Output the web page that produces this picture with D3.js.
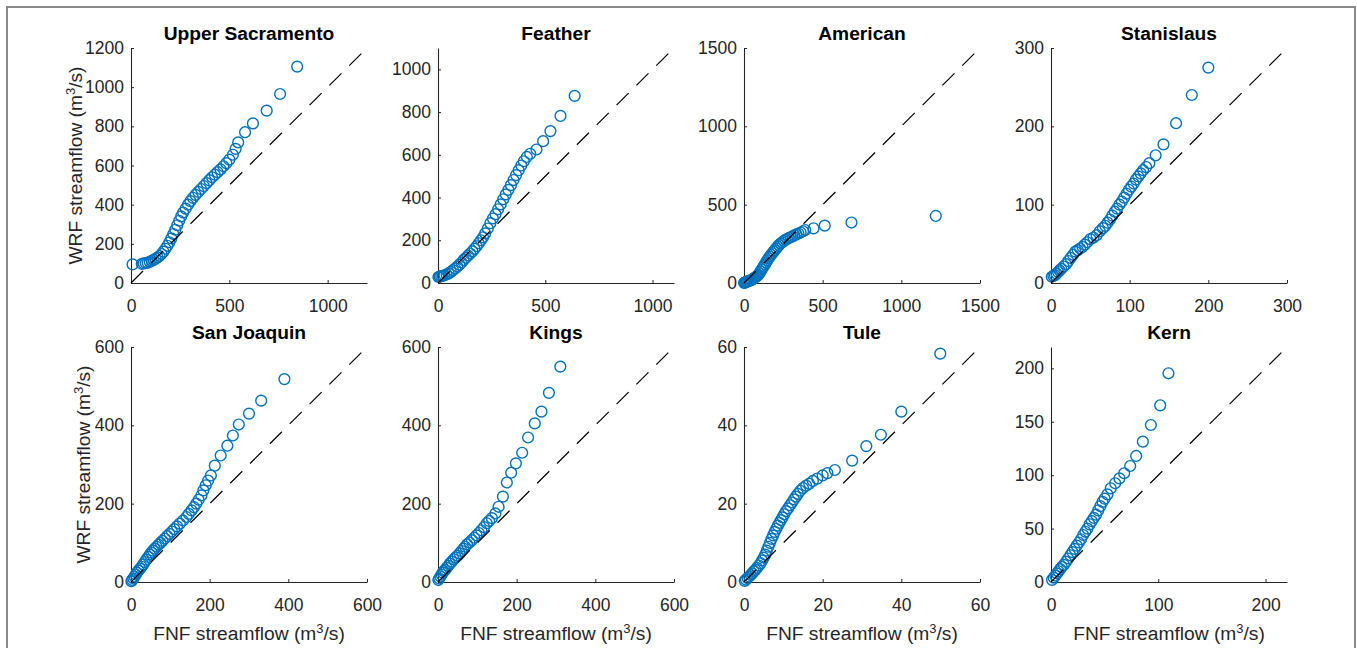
<!DOCTYPE html>
<html>
<head>
<meta charset="utf-8">
<script src="https://cdn.jsdelivr.net/npm/d3@7"></script>
<style>
  html, body { margin: 0; padding: 0; background: #fff; }
  svg { display: block; font-family: "Liberation Sans", Arial, Helvetica, sans-serif; }
</style>
</head>
<body>
<svg id="chart" width="1357" height="648"></svg>
<script>
// Basins, one panel each (row-major, 4 per row)
const basinNames = ["Upper Sacramento", "Feather", "American", "Stanislaus",
                    "San Joaquin", "Kings", "Tule", "Kern"];

// Upper bound of both axes per basin (m3/s)
const axisMax = [1200, 1100, 1500, 300, 600, 600, 60, 220];

const xTickValues = [
  [0, 500, 1000], [0, 500, 1000], [0, 500, 1000, 1500], [0, 100, 200, 300],
  [0, 200, 400, 600], [0, 200, 400, 600], [0, 20, 40, 60], [0, 100, 200]
];
const yTickValues = [
  [0, 200, 400, 600, 800, 1000, 1200], [0, 200, 400, 600, 800, 1000],
  [0, 500, 1000, 1500], [0, 100, 200, 300],
  [0, 200, 400, 600], [0, 200, 400, 600], [0, 20, 40, 60], [0, 50, 100, 150, 200]
];

// Quantile pairs [FNF, WRF] in m3/s
const upperSacramento = [
  [8,95],[55,98],[65,100],[75,102],[85,104],[95,108],[105,113],[115,118],[125,124],
  [135,130],[145,138],[155,148],[165,160],[175,175],[185,190],[195,208],[205,228],
  [215,250],[225,272],[235,295],[245,318],[255,340],[265,360],[278,380],[290,400],
  [302,418],[315,435],[328,450],[342,465],[356,480],[370,495],[384,510],[398,525],
  [412,540],[426,553],[440,566],[455,580],[470,596],[485,612],[500,630],[518,655],
  [532,685],[545,718],[580,770],[620,815],[690,880],[758,965],[845,1105]
];
const feather = [
  [2,28],[8,30],[15,32],[22,34],[30,36],[40,40],[50,45],[60,52],[70,60],[80,68],
  [90,77],[100,86],[110,96],[120,108],[130,118],[140,128],[150,138],[160,148],
  [170,160],[180,172],[190,186],[200,200],[210,214],[220,232],[232,255],[244,280],
  [256,302],[268,322],[280,345],[292,368],[304,392],[316,415],[328,436],[340,458],
  [352,482],[364,505],[376,528],[388,550],[400,570],[414,590],[430,605],[459,625],
  [490,664],[524,711],[571,782],[637,876]
];
const american = [
  [1,1],[4,2],[8,4],[12,6],[17,8],[22,10],[28,12],[35,15],[42,17],[49,20],[56,25],
  [63,30],[70,35],[77,40],[84,46],[91,52],[98,62],[105,74],[112,86],[119,97],
  [126,108],[133,120],[140,132],[148,145],[156,158],[164,169],[172,180],[180,190],
  [188,200],[196,210],[205,221],[214,232],[223,243],[233,252],[243,260],[253,268],
  [263,275],[274,281],[285,287],[296,292],[308,298],[320,304],[333,310],[346,316],
  [360,322],[375,330],[389,338],[442,349],[513,366],[683,386],[1219,428]
];
const stanislaus = [
  [1,8],[3,9],[5,10],[7,12],[9,14],[11,16],[13,18],[16,21],[19,24],[22,28],[25,32],
  [28,36],[31,40],[34,42],[37,44],[40,46],[43,49],[46,52],[50,56],[54,58],[58,61],
  [62,66],[66,70],[69,73],[72,77],[75,81],[78,86],[81,91],[84,95],[87,100],[90,104],
  [93,109],[96,114],[99,119],[102,123],[105,127],[108,132],[111,136],[114,140],
  [117,144],[121,148],[125,153],[133,163],[143,177],[159,204],[179,240],[200,275]
];
const sanJoaquin = [
  [1,2],[3,5],[6,9],[9,14],[12,19],[15,24],[19,29],[23,34],[27,39],[31,45],[35,51],
  [39,57],[44,64],[48,70],[52,75],[56,80],[60,85],[65,90],[70,95],[75,100],[80,105],
  [86,111],[92,117],[98,123],[104,129],[110,135],[117,142],[124,149],[132,157],
  [141,166],[147,174],[154,183],[160,191],[166,200],[172,210],[179,221],[184,234],
  [190,247],[196,259],[203,272],[213,297],[228,323],[245,348],[259,374],[274,402],
  [300,430],[331,463],[390,518]
];
const kings = [
  [1,5],[3,9],[6,14],[9,19],[12,24],[15,28],[18,31],[22,36],[26,41],[30,47],[35,52],
  [40,58],[45,63],[50,67],[55,73],[60,79],[65,85],[69,90],[74,96],[80,101],[86,107],
  [92,113],[98,119],[104,125],[110,132],[117,140],[124,150],[130,156],[137,163],
  [146,175],[154,192],[165,218],[175,254],[186,279],[198,303],[214,330],[229,369],
  [246,405],[263,435],[282,483],[311,550]
];
const tule = [
  [0.2,0.3],[0.5,0.6],[0.9,1.0],[1.3,1.4],[1.7,1.8],[2.1,2.2],[2.5,2.7],[2.9,3.1],
  [3.3,3.6],[3.8,4.2],[4.2,4.8],[4.6,5.5],[5.0,6.2],[5.4,7.0],[5.8,8.0],[6.2,9.0],
  [6.6,10.0],[7.0,11.0],[7.4,11.9],[7.8,12.8],[8.2,13.6],[8.6,14.4],[9.0,15.1],
  [9.4,15.8],[9.8,16.5],[10.2,17.3],[10.7,18.1],[11.2,18.8],[11.7,19.6],[12.2,20.3],
  [12.7,21.1],[13.2,21.8],[13.7,22.5],[14.3,23.3],[15.0,24.0],[15.8,24.6],[16.6,25.1],
  [17.5,25.8],[18.6,26.4],[20.0,27.2],[21.2,27.8],[23.1,28.6],[27.5,31.0],[31.1,34.7],
  [34.8,37.6],[40.0,43.5],[49.9,58.3]
];
const kern = [
  [1,2],[2.5,4],[4,6],[5.5,8],[7,10],[8.5,12],[10,14],[12,16],[14,19],[16,22],[18,25],
  [20,28],[22,31],[24,34],[26,37],[28,40],[30,44],[32,47],[34,50],[36,54],[38,57],
  [40,60],[42,63],[44,67],[46,71],[48,75],[50,78],[52.6,82],[55.7,87.7],[59.8,92.4],
  [63.8,97],[68.2,101.8],[73.8,108.6],[79.4,118],[85.6,131.4],[93.1,147],
  [101.8,165.4],[109.5,195.4]
];
const basinSeries = [upperSacramento, feather, american, stanislaus,
                     sanJoaquin, kings, tule, kern];

// ---- layout ----
const colLeft = [131, 438, 744, 1051];
const rowTop = [48, 347];
const plotW = 236, plotH = 235;
const ink = "#262626";
const markerBlue = "#0072BD";
const tickFont = 17.5, labelFont = 19.2;

const svg = d3.select("#chart");

// outer frame
svg.append("rect")
  .attr("x", 7).attr("y", 7)
  .attr("width", 1348).attr("height", 720)
  .attr("fill", "none").attr("stroke", "#8a8a8a").attr("stroke-width", 2);

function styleAxis(sel) {
  sel.attr("font-size", null).attr("font-family", null);
  sel.select(".domain").attr("stroke", ink).attr("stroke-width", 1.1);
  sel.selectAll(".tick line").attr("stroke", ink).attr("stroke-width", 1);
  sel.selectAll(".tick text").attr("fill", ink).style("font-size", tickFont + "px");
}

// axis label with a superscript 3 in the unit
function unitLabel(textSel, prefix) {
  textSel.append("tspan").text(prefix + " (m");
  textSel.append("tspan").attr("dy", -7).style("font-size", "13px").text("3");
  textSel.append("tspan").attr("dy", 7).text("/s)");
}

basinNames.forEach((name, i) => {
  const col = i % 4, row = Math.floor(i / 4);
  const maxV = axisMax[i];
  const g = svg.append("g")
    .attr("transform", `translate(${colLeft[col]},${rowTop[row]})`);

  const x = d3.scaleLinear().domain([0, maxV]).range([0, plotW]);
  const y = d3.scaleLinear().domain([0, maxV]).range([plotH, 0]);

  g.append("g")
    .attr("transform", `translate(0,${plotH})`)
    .call(d3.axisBottom(x).tickValues(xTickValues[i]).tickFormat(d3.format("d"))
      .tickSizeInner(-3).tickSizeOuter(0).tickPadding(16.5))
    .call(styleAxis);

  g.append("g")
    .call(d3.axisLeft(y).tickValues(yTickValues[i]).tickFormat(d3.format("d"))
      .tickSizeInner(-3).tickSizeOuter(0).tickPadding(7))
    .call(styleAxis);

  // quantile markers
  g.append("g").selectAll("circle")
    .data(basinSeries[i])
    .join("circle")
    .attr("cx", d => x(d[0]))
    .attr("cy", d => y(d[1]))
    .attr("r", 5.4)
    .attr("fill", "none")
    .attr("stroke", markerBlue)
    .attr("stroke-width", 1.4);

  // 1:1 reference line
  g.append("line")
    .attr("x1", x(0)).attr("y1", y(0))
    .attr("x2", x(maxV)).attr("y2", y(maxV))
    .attr("stroke", "#000").attr("stroke-width", 1.2)
    .attr("stroke-dasharray", "17,11");

  g.append("text")
    .attr("x", plotW / 2).attr("y", -8.5)
    .attr("text-anchor", "middle")
    .attr("font-weight", "bold")
    .style("font-size", labelFont + "px")
    .attr("fill", "#000")
    .text(name);

  if (col === 0) {
    const lx = row === 0 ? 82 : 89.5;
    const t = svg.append("text")
      .attr("transform", `translate(${lx},${rowTop[row] + plotH / 2}) rotate(-90)`)
      .attr("text-anchor", "middle")
      .style("font-size", labelFont + "px")
      .attr("fill", ink);
    unitLabel(t, "WRF streamflow");
  }
  if (row === 1) {
    const t = svg.append("text")
      .attr("x", colLeft[col] + plotW / 2).attr("y", 640)
      .attr("text-anchor", "middle")
      .style("font-size", labelFont + "px")
      .attr("fill", ink);
    unitLabel(t, "FNF streamflow");
  }
});
</script>
</body>
</html>
